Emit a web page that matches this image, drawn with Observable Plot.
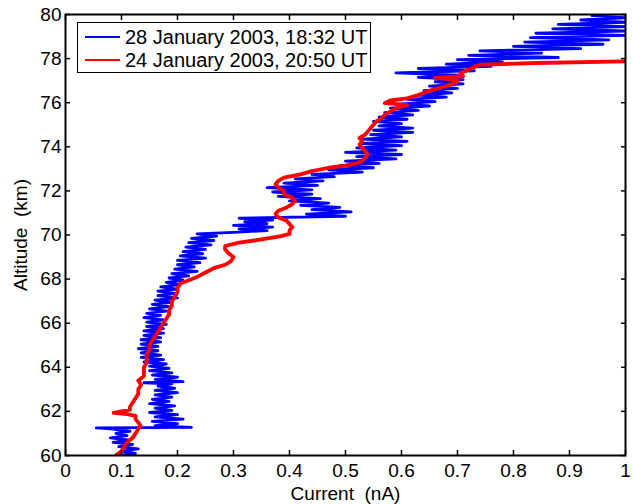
<!DOCTYPE html>
<html><head><meta charset="utf-8">
<script src="https://cdn.jsdelivr.net/npm/d3@7"></script>
<script src="https://cdn.jsdelivr.net/npm/@observablehq/plot@0.6"></script>
<style>
body{margin:0;background:#fff;}
#wrap{position:relative;width:633px;height:504px;}
#legend{position:absolute;left:77px;top:22px;width:294px;height:51px;border:1px solid #000;background:#fff;font:20px "Liberation Sans",Arial,sans-serif;box-sizing:border-box;color:#000;}
.row{position:absolute;left:0;height:22px;display:flex;align-items:center;white-space:pre;}
.sw{width:35px;height:2.5px;margin-left:7px;margin-right:5px;}
</style></head>
<body>
<div id="wrap"><div id="legend"></div></div>
<script>
const seriesNames = ["28 January 2003, 18:32 UT", "24 January 2003, 20:50 UT"];
const seriesColors = ["#0000ff", "#ff0000"];
const xTicks = [0, 0.1, 0.2, 0.3, 0.4, 0.5, 0.6, 0.7, 0.8, 0.9, 1];
const yTicks = [60, 62, 64, 66, 68, 70, 72, 74, 76, 78, 80];

const blueAltitude = [60.0,60.1,60.2,60.3,60.4,60.5,60.6,60.7,60.8,60.9,61.0,61.1,61.2,61.25,61.28,61.35,61.45,61.55,61.65,61.75,61.85,61.95,62.05,62.15,62.25,62.35,62.45,62.55,62.65,62.75,62.85,62.95,63.05,63.15,63.25,63.3,63.35,63.45,63.55,63.65,63.75,63.85,63.95,64.05,64.15,64.25,64.35,64.45,64.55,64.65,64.75,64.85,64.95,65.05,65.15,65.25,65.35,65.45,65.55,65.65,65.75,65.85,65.95,66.05,66.15,66.25,66.35,66.45,66.55,66.65,66.75,66.85,66.95,67.05,67.15,67.25,67.35,67.45,67.55,67.65,67.75,67.85,67.95,68.05,68.15,68.25,68.35,68.45,68.55,68.65,68.75,68.85,68.95,69.05,69.15,69.25,69.35,69.45,69.55,69.65,69.75,69.85,69.95,70.05,70.12,70.2,70.28,70.36,70.44,70.52,70.6,70.68,70.76,70.85,70.95,71.05,71.15,71.25,71.35,71.45,71.55,71.65,71.75,71.85,71.95,72.05,72.15,72.25,72.35,72.45,72.55,72.65,72.75,72.85,72.95,73.05,73.15,73.25,73.35,73.45,73.55,73.65,73.75,73.85,73.95,74.05,74.15,74.25,74.35,74.45,74.55,74.65,74.75,74.85,74.95,75.05,75.15,75.25,75.35,75.45,75.55,75.65,75.75,75.85,75.95,76.05,76.15,76.25,76.35,76.45,76.55,76.65,76.75,76.85,76.95,77.05,77.15,77.25,77.35,77.45,77.55,77.65,77.75,77.85,77.95,78.05,78.15,78.25,78.35,78.45,78.55,78.65,78.75,78.85,78.95,79.05,79.15,79.25,79.35,79.45,79.55,79.65,79.75,79.85,79.95];
const blueCurrent = [0.095,0.125,0.10,0.13,0.095,0.12,0.085,0.115,0.08,0.11,0.09,0.115,0.085,0.055,0.225,0.16,0.2,0.155,0.21,0.16,0.2,0.15,0.19,0.16,0.195,0.15,0.185,0.155,0.19,0.16,0.2,0.16,0.195,0.165,0.19,0.14,0.21,0.16,0.2,0.155,0.19,0.15,0.185,0.15,0.18,0.14,0.175,0.135,0.17,0.135,0.165,0.13,0.165,0.135,0.17,0.135,0.17,0.14,0.175,0.14,0.175,0.145,0.18,0.145,0.175,0.14,0.17,0.145,0.18,0.15,0.185,0.155,0.19,0.16,0.2,0.165,0.195,0.165,0.2,0.17,0.205,0.18,0.21,0.185,0.22,0.19,0.235,0.195,0.23,0.2,0.24,0.2,0.25,0.205,0.245,0.21,0.25,0.215,0.26,0.22,0.265,0.225,0.27,0.235,0.3,0.36,0.31,0.37,0.3,0.36,0.32,0.37,0.31,0.5,0.43,0.51,0.44,0.49,0.42,0.47,0.4,0.455,0.38,0.44,0.37,0.44,0.36,0.45,0.39,0.46,0.41,0.48,0.44,0.53,0.47,0.55,0.49,0.56,0.5,0.59,0.52,0.6,0.5,0.59,0.52,0.6,0.53,0.61,0.53,0.6,0.545,0.62,0.55,0.62,0.56,0.6,0.55,0.61,0.56,0.62,0.57,0.63,0.58,0.65,0.6,0.66,0.61,0.68,0.63,0.69,0.64,0.7,0.65,0.71,0.66,0.71,0.63,0.7,0.59,0.73,0.63,0.76,0.68,0.78,0.7,0.88,0.72,0.85,0.74,0.92,0.8,0.96,0.82,0.97,0.83,1.0,0.84,1.0,0.87,1.0,0.88,1.0,0.92,1.0,0.94];

const redAltitude = [60.0,60.2,60.4,60.6,60.8,61.0,61.2,61.35,61.5,61.65,61.8,61.88,61.93,62.0,62.08,62.2,62.4,62.6,62.8,63.0,63.2,63.4,63.6,63.8,64.0,64.2,64.4,64.6,64.8,65.0,65.2,65.4,65.6,65.8,66.0,66.2,66.4,66.6,66.8,67.0,67.2,67.4,67.6,67.8,67.95,68.1,68.3,68.5,68.65,68.8,69.0,69.2,69.35,69.5,69.65,69.8,69.95,70.05,70.2,70.35,70.5,70.65,70.8,70.95,71.1,71.25,71.4,71.55,71.7,71.85,72.0,72.15,72.3,72.45,72.6,72.75,72.9,73.05,73.15,73.25,73.35,73.5,73.65,73.8,73.95,74.1,74.25,74.4,74.55,74.7,74.85,75.0,75.15,75.3,75.45,75.6,75.75,75.9,75.98,76.1,76.2,76.35,76.5,76.65,76.8,76.95,77.05,77.12,77.2,77.35,77.5,77.62,77.72,77.8,77.87];
const redCurrent = [0.09,0.1,0.105,0.11,0.12,0.125,0.13,0.134,0.13,0.125,0.125,0.11,0.086,0.1,0.115,0.115,0.12,0.125,0.13,0.13,0.135,0.13,0.14,0.14,0.14,0.145,0.145,0.145,0.15,0.15,0.155,0.16,0.165,0.17,0.175,0.18,0.185,0.185,0.19,0.19,0.195,0.2,0.2,0.205,0.22,0.235,0.25,0.265,0.285,0.295,0.3,0.29,0.285,0.285,0.31,0.35,0.385,0.4,0.4,0.405,0.4,0.395,0.38,0.375,0.38,0.395,0.405,0.41,0.405,0.39,0.39,0.38,0.375,0.38,0.39,0.42,0.44,0.47,0.5,0.52,0.53,0.535,0.54,0.535,0.53,0.525,0.53,0.525,0.535,0.54,0.545,0.55,0.555,0.565,0.57,0.58,0.59,0.61,0.57,0.58,0.61,0.63,0.645,0.665,0.685,0.7,0.7,0.66,0.71,0.705,0.72,0.73,0.74,0.84,1.0];

const blue = blueAltitude.map((a, i) => ({altitude: a, current: blueCurrent[i]}));
const red = redAltitude.map((a, i) => ({altitude: a, current: redCurrent[i]}));

const chart = Plot.plot({
  width: 633, height: 504,
  marginLeft: 65, marginRight: 8, marginTop: 14, marginBottom: 49,
  style: {fontSize: "19px", fontFamily: "'Liberation Sans', Arial, sans-serif", color: "#000", background: "#fff", overflow: "visible"},
  x: {domain: [0, 1]},
  y: {domain: [60, 80]},
  marks: [
    Plot.line(blue, {x: "current", y: "altitude", stroke: seriesColors[0], strokeWidth: 2.8, clip: true}),
    Plot.line(red, {x: "current", y: "altitude", stroke: seriesColors[1], strokeWidth: 3.8, clip: true}),
    Plot.frame({stroke: "#000", strokeWidth: 2}),
    Plot.axisX(xTicks, {anchor: "bottom", tickSize: -5, tickPadding: 13, strokeWidth: 1.5, tickFormat: d => String(d), label: "Current\u00a0 (nA)", labelAnchor: "center", labelOffset: 44, labelArrow: "none"}),
    Plot.axisX(xTicks, {anchor: "top", tickSize: -5, strokeWidth: 1.5, tickFormat: () => "", label: null}),
    Plot.axisY(yTicks, {anchor: "left", tickSize: -5, tickPadding: 9, strokeWidth: 1.5, tickFormat: d => String(d), label: "Altitude\u00a0 (km)", labelAnchor: "center", labelOffset: 52, labelArrow: "none"}),
    Plot.axisY(yTicks, {anchor: "right", tickSize: -5, strokeWidth: 1.5, tickFormat: () => "", label: null})
  ]
});
document.getElementById("wrap").prepend(chart);

const legend = document.getElementById("legend");
seriesNames.forEach((name, i) => {
  const row = document.createElement("div");
  row.className = "row";
  row.style.top = (i === 0 ? 3 : 26) + "px";
  const sw = document.createElement("span");
  sw.className = "sw";
  sw.style.background = seriesColors[i];
  const t = document.createElement("span");
  t.textContent = name;
  row.append(sw, t);
  legend.append(row);
});
</script>
</body></html>
